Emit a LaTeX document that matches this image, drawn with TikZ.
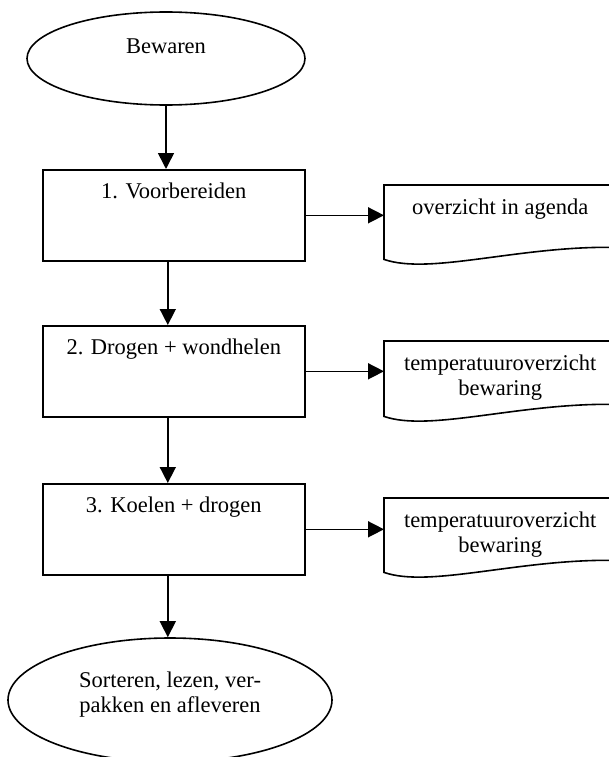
\documentclass[tikz,border=0pt]{standalone}
\usepackage{fontspec}
\setmainfont{Liberation Serif}
\usetikzlibrary{arrows.meta,shapes.geometric,calc}
\tikzset{
  every node/.style={font=\fontsize{22.5}{25}\selectfont},
  ln/.style={line width=1.6pt, draw=black},
  arr/.style={line width=1.6pt, -{Triangle[length=16pt,width=16pt]}},
  stepbox/.style={ln, rectangle, inner sep=0pt, minimum width=262pt,
    text height=29pt, text depth=62pt, anchor=north west},
  ovalbox/.style={ln, ellipse, inner sep=0pt},
  docbox/.style={rectangle, inner sep=0pt, minimum width=232pt, align=center,
    anchor=north west},
}
\begin{document}
\begin{tikzpicture}[x=1pt,y=-1pt]
\useasboundingbox (0,0) rectangle (609,757);
\clip (0,0) rectangle (609,757);
\fill[white] (0,0) rectangle (609,757);

\node[ovalbox, minimum width=278pt, minimum height=93pt, text height=12pt, text depth=21pt] (e1) at (166,58.5) {Bewaren};

\node[stepbox] (b1) at (42,169) {1. Voorbereiden};
\node[stepbox] (b2) at (42,325) {2. Drogen + wondhelen};
\node[stepbox] (b3) at (42,483) {3. Koelen + drogen};

\node[ovalbox, minimum width=324pt, minimum height=124pt, align=center, text height=44pt, text depth=20pt] (e2) at (170,700) {Sorteren, lezen, ver-\\pakken en afleveren};

\node[docbox, text height=29pt, text depth=45pt] (d1) at (384,185) {overzicht in agenda};
\node[docbox, text height=54pt, text depth=21pt] (d2) at (384,341) {temperatuuroverzicht\\bewaring};
\node[docbox, text height=54pt, text depth=20pt] (d3) at (384,498) {temperatuuroverzicht\\bewaring};

\foreach \d in {d1,d2,d3}{
  \draw[ln] ($(\d.south east)+(0,-12)$) -- (\d.north east) -- (\d.north west) -- (\d.south west)
    .. controls ($(\d.south west)+(46,16)$) and ($(\d.south west)+(136,-14)$) .. ($(\d.south east)+(0,-12)$);
}

\draw[arr] (e1.south) -- (e1.south |- b1.north);
\draw[arr] ([xshift=-6pt]b1.south) -- ([xshift=-6pt]b2.north);
\draw[arr] ([xshift=-6pt]b2.south) -- ([xshift=-6pt]b3.north);
\draw[arr] ([xshift=-6pt]b3.south) -- ([xshift=-6pt]b3.south |- e2.north);

\draw[arr] (b1.east) -- (b1.east -| d1.west);
\draw[arr] (b2.east) -- (b2.east -| d2.west);
\draw[arr] (b3.east) -- (b3.east -| d3.west);
\end{tikzpicture}
\end{document}
